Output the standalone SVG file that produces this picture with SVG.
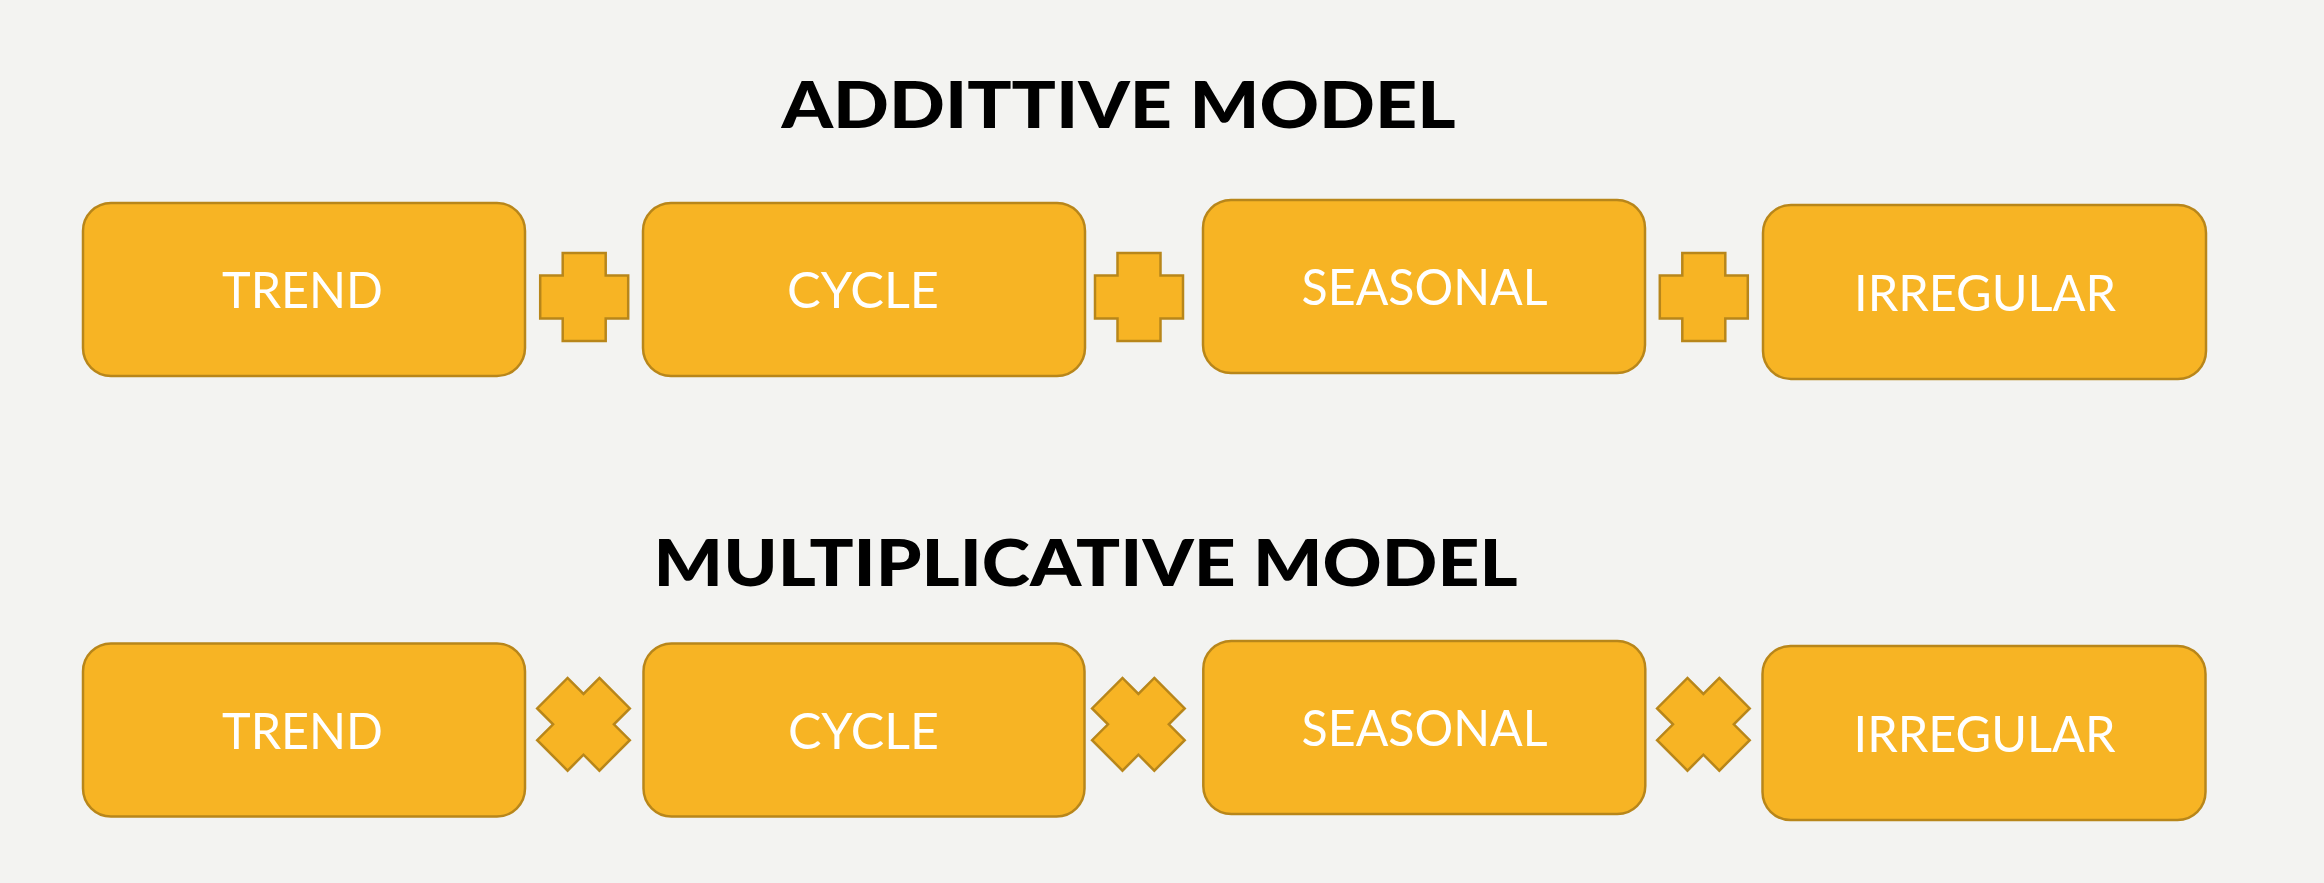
<svg xmlns="http://www.w3.org/2000/svg" width="2324" height="883" viewBox="0 0 2324 883">
  <style>
    .box { fill: #F7B424; stroke: #B8861A; stroke-width: 2.5; }
    .op { fill: #F7B424; stroke: #B8861A; stroke-width: 2.5; stroke-linejoin: miter; }
    .label { font-family: Lato, "Open Sans", "Liberation Sans", sans-serif; font-size: 50px; fill: #FFFFFF; text-anchor: middle; }
    .title { font-family: Lato, "Liberation Sans", sans-serif; font-weight: 900; font-size: 65px; fill: #000000; text-anchor: middle; }
  </style>
  <defs>
    <path id="plus" d="M-21.5,-44 H21.5 V-21.5 H44 V21.5 H21.5 V44 H-21.5 V21.5 H-44 V-21.5 H-21.5 Z"/>
  </defs>
  <rect width="2324" height="883" fill="#F3F3F1"/>

  <!-- Additive model -->
  <text id="title-additive" class="title" x="1118.5" y="127.7" textLength="674" lengthAdjust="spacingAndGlyphs">ADDITTIVE MODEL</text>

  <g id="add-trend">
    <rect class="box" x="83" y="203" width="442" height="173" rx="28" ry="28"/>
    <text class="label" x="302.5" y="307.7" textLength="161" lengthAdjust="spacingAndGlyphs">TREND</text>
  </g>
  <g id="add-cycle">
    <rect class="box" x="643" y="203" width="442" height="173" rx="28" ry="28"/>
    <text class="label" x="863" y="307.7" textLength="152" lengthAdjust="spacingAndGlyphs">CYCLE</text>
  </g>
  <g id="add-seasonal">
    <rect class="box" x="1203" y="200" width="442" height="173" rx="28" ry="28"/>
    <text class="label" x="1424.6" y="305" textLength="246" lengthAdjust="spacingAndGlyphs">SEASONAL</text>
  </g>
  <g id="add-irregular">
    <rect class="box" x="1763" y="205" width="443" height="174" rx="28" ry="28"/>
    <text class="label" x="1985" y="311" textLength="262" lengthAdjust="spacingAndGlyphs">IRREGULAR</text>
  </g>

  <g id="add-operators">
    <use href="#plus" class="op" transform="translate(584.2,297)"/>
    <use href="#plus" class="op" transform="translate(1139,297)"/>
    <use href="#plus" class="op" transform="translate(1703.8,297)"/>
  </g>

  <!-- Multiplicative model -->
  <text id="title-multiplicative" class="title" x="1085.6" y="586" textLength="864" lengthAdjust="spacingAndGlyphs">MULTIPLICATIVE MODEL</text>

  <g id="mul-trend">
    <rect class="box" x="83" y="643.5" width="442" height="173" rx="28" ry="28"/>
    <text class="label" x="302.5" y="748.7" textLength="161" lengthAdjust="spacingAndGlyphs">TREND</text>
  </g>
  <g id="mul-cycle">
    <rect class="box" x="643.5" y="643.5" width="441" height="173" rx="28" ry="28"/>
    <text class="label" x="863.4" y="748.7" textLength="151" lengthAdjust="spacingAndGlyphs">CYCLE</text>
  </g>
  <g id="mul-seasonal">
    <rect class="box" x="1203.3" y="641" width="442" height="173" rx="28" ry="28"/>
    <text class="label" x="1424.6" y="745.7" textLength="246" lengthAdjust="spacingAndGlyphs">SEASONAL</text>
  </g>
  <g id="mul-irregular">
    <rect class="box" x="1762.5" y="646" width="443" height="174" rx="28" ry="28"/>
    <text class="label" x="1984.5" y="752" textLength="262" lengthAdjust="spacingAndGlyphs">IRREGULAR</text>
  </g>

  <g id="mul-operators">
    <use href="#plus" class="op" transform="translate(583.5,724.3) rotate(45)"/>
    <use href="#plus" class="op" transform="translate(1138.4,724.3) rotate(45)"/>
    <use href="#plus" class="op" transform="translate(1703.4,724.3) rotate(45)"/>
  </g>
</svg>
